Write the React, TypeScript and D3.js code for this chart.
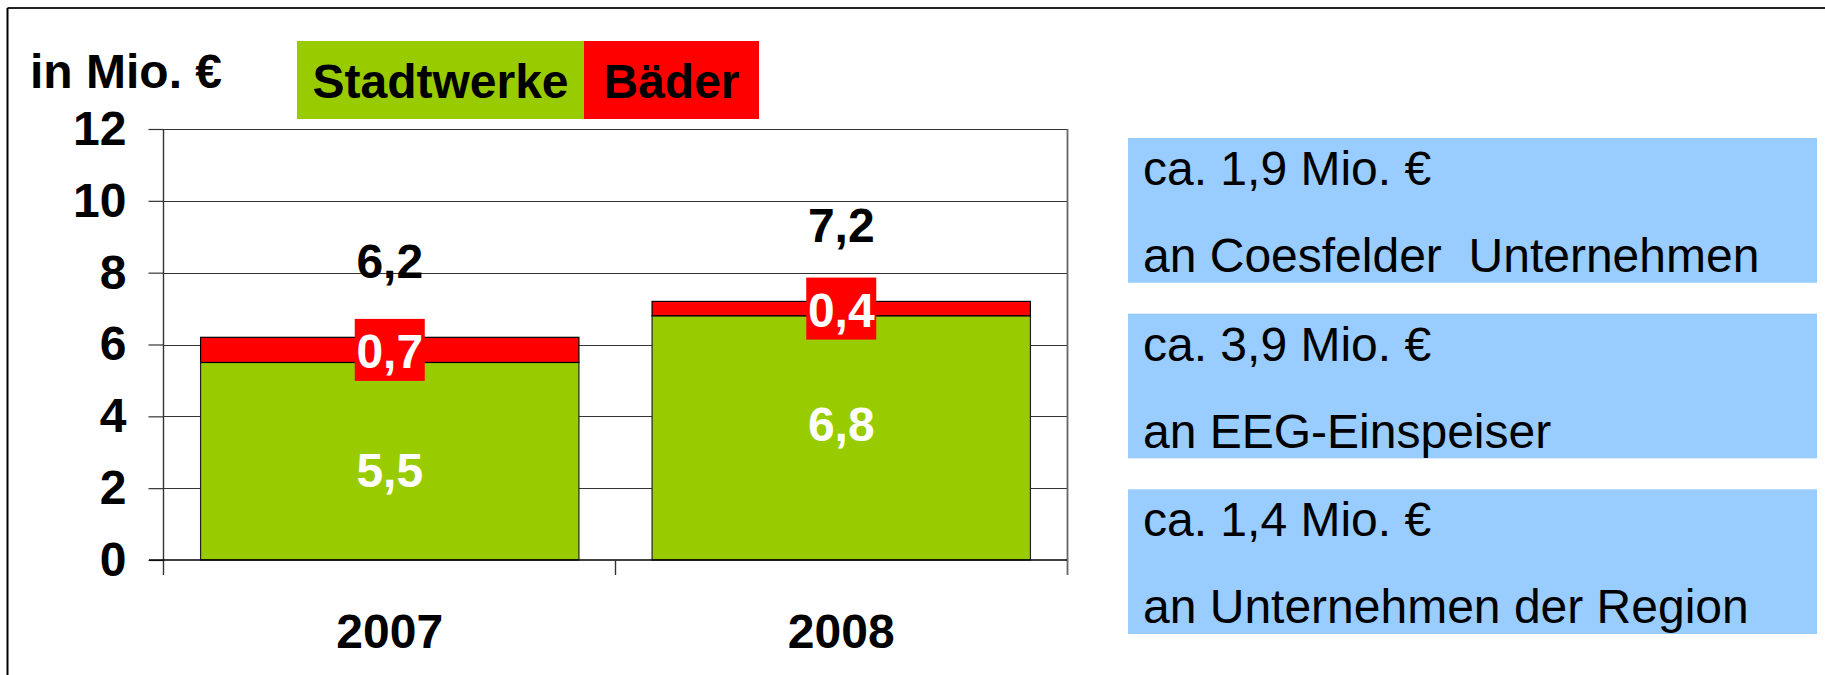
import React, { useRef, useEffect } from 'react';
import * as d3 from 'd3';

const years = ['2007', '2008'];
const stadtwerke = [5.5, 6.8];
const baeder = [0.7, 0.4];
const totals = [6.2, 7.2];
const yTicks = [0, 2, 4, 6, 8, 10, 12];
const legendLabels = ['Stadtwerke', 'Bäder'];
const unitLabel = 'in Mio. €';
const infoAmounts = ['ca. 1,9 Mio. €', 'ca. 3,9 Mio. €', 'ca. 1,4 Mio. €'];
const infoTargets = ['an Coesfelder  Unternehmen', 'an EEG-Einspeiser', 'an Unternehmen der Region'];

const GREEN = '#99CC00';
const RED = '#FF0000';
const BLUE = '#99CCFF';
const FONT = 'Liberation Sans, Arial, sans-serif';
const BOLD_SIZE = 48;
const TEXT_SIZE = 48;

const fmt = (v: number) => v.toFixed(1).replace('.', ',');

export default function App() {
    const svgRef = useRef<SVGSVGElement>(null);
    const width = 1825;
    const height = 675;

    useEffect(() => {
        const svg = d3.select(svgRef.current);
        svg.selectAll('*').remove();

        const plot = { left: 164, right: 1067, top: 129, bottom: 560 };

        const x = d3.scaleBand<string>()
            .domain(years)
            .range([plot.left, plot.right])
            .paddingInner(0.162)
            .paddingOuter(0.081);

        const y = d3.scaleLinear()
            .domain([0, 12])
            .range([plot.bottom, plot.top]);

        // outer frame (top + left visible)
        svg.append('line')
            .attr('x1', 7.5).attr('x2', width).attr('y1', 8).attr('y2', 8)
            .attr('stroke', '#222').attr('stroke-width', 2);
        svg.append('line')
            .attr('x1', 7.5).attr('x2', 7.5).attr('y1', 8).attr('y2', height)
            .attr('stroke', '#000').attr('stroke-width', 2);

        // gridlines
        svg.append('g')
            .selectAll('line')
            .data(yTicks.filter(d => d > 0))
            .join('line')
            .attr('x1', plot.left)
            .attr('x2', plot.right)
            .attr('y1', d => Math.round(y(d)) + 0.5)
            .attr('y2', d => Math.round(y(d)) + 0.5)
            .attr('stroke', '#333')
            .attr('stroke-width', 1.2);

        // right edge of plot area
        svg.append('line')
            .attr('x1', plot.right + 0.5).attr('x2', plot.right + 0.5)
            .attr('y1', plot.top).attr('y2', plot.bottom + 15)
            .attr('stroke', '#666').attr('stroke-width', 1.8);

        // y axis
        svg.append('g')
            .attr('transform', `translate(${plot.left - 0.5},0)`)
            .call(d3.axisLeft(y).tickValues(yTicks).tickSize(15).tickSizeOuter(0).tickFormat(d => String(d)))
            .call(g => g.select('.domain').remove())
            .call(g => g.selectAll('.tick line').attr('stroke', '#333').attr('stroke-width', 1.2))
            .call(g => g.selectAll('.tick text')
                .attr('x', -37)
                .attr('fill', '#000')
                .attr('font-size', BOLD_SIZE)
                .attr('font-weight', 'bold')
                .attr('font-family', FONT));
        svg.append('line')
            .attr('x1', plot.left - 0.5).attr('x2', plot.left - 0.5)
            .attr('y1', plot.top).attr('y2', plot.bottom + 15)
            .attr('stroke', '#333').attr('stroke-width', 1.4);

        // bars
        const stacks = years.map((yr, i) => ({ yr, green: stadtwerke[i], red: baeder[i], total: totals[i] }));
        const bars = svg.append('g');
        bars.selectAll('rect.green')
            .data(stacks)
            .join('rect')
            .attr('class', 'green')
            .attr('x', d => x(d.yr)!)
            .attr('width', x.bandwidth())
            .attr('y', d => y(d.green))
            .attr('height', d => y(0) - y(d.green))
            .attr('fill', GREEN)
            .attr('stroke', '#222')
            .attr('stroke-width', 1.2);
        bars.selectAll('rect.red')
            .data(stacks)
            .join('rect')
            .attr('class', 'red')
            .attr('x', d => x(d.yr)!)
            .attr('width', x.bandwidth())
            .attr('y', d => y(d.green + d.red))
            .attr('height', d => y(d.green) - y(d.green + d.red))
            .attr('fill', RED)
            .attr('stroke', '#000')
            .attr('stroke-width', 1.2);

        // x axis
        svg.append('line')
            .attr('x1', plot.left - 15).attr('x2', plot.right)
            .attr('y1', plot.bottom).attr('y2', plot.bottom)
            .attr('stroke', '#000').attr('stroke-width', 1.6);
        const mid = (x('2007')! + x.bandwidth() + x('2008')!) / 2;
        svg.append('line')
            .attr('x1', mid).attr('x2', mid)
            .attr('y1', plot.bottom).attr('y2', plot.bottom + 15)
            .attr('stroke', '#333').attr('stroke-width', 1.4);

        svg.append('g')
            .selectAll('text')
            .data(years)
            .join('text')
            .attr('x', d => x(d)! + x.bandwidth() / 2)
            .attr('y', 648)
            .attr('text-anchor', 'middle')
            .attr('font-size', BOLD_SIZE)
            .attr('font-weight', 'bold')
            .attr('font-family', FONT)
            .text(d => d);

        const cx = (d: { yr: string }) => x(d.yr)! + x.bandwidth() / 2;

        // green value labels
        svg.append('g')
            .selectAll('text')
            .data(stacks)
            .join('text')
            .attr('x', cx)
            .attr('y', d => y(d.green) + 108)
            .attr('dy', '0.35em')
            .attr('text-anchor', 'middle')
            .attr('fill', '#fff')
            .attr('font-size', BOLD_SIZE)
            .attr('font-weight', 'bold')
            .attr('font-family', FONT)
            .text(d => fmt(d.green));

        // red value labels with red background
        const redLabels = svg.append('g')
            .selectAll('g')
            .data(stacks)
            .join('g')
            .attr('transform', d => `translate(${cx(d)},${y(d.green + d.red / 2)})`);
        redLabels.append('rect')
            .attr('x', -35).attr('y', -31)
            .attr('width', 70).attr('height', 62)
            .attr('fill', RED);
        redLabels.append('text')
            .attr('y', 18)
            .attr('text-anchor', 'middle')
            .attr('fill', '#fff')
            .attr('font-size', BOLD_SIZE)
            .attr('font-weight', 'bold')
            .attr('font-family', FONT)
            .text(d => fmt(d.red));

        // totals
        svg.append('g')
            .selectAll('text')
            .data(stacks)
            .join('text')
            .attr('x', cx)
            .attr('y', d => y(d.total) - 59)
            .attr('text-anchor', 'middle')
            .attr('fill', '#000')
            .attr('font-size', BOLD_SIZE)
            .attr('font-weight', 'bold')
            .attr('font-family', FONT)
            .text(d => fmt(d.total));

        // unit label
        svg.append('text')
            .attr('x', 30)
            .attr('y', 88)
            .attr('font-size', BOLD_SIZE)
            .attr('font-weight', 'bold')
            .attr('font-family', FONT)
            .text(unitLabel);

        // legend
        const legendX = d3.scaleOrdinal<string, number>().domain(legendLabels).range([297, 584]);
        const legendW = [287, 175];
        const legendColors = [GREEN, RED];
        const legend = svg.append('g')
            .selectAll('g')
            .data(legendLabels)
            .join('g')
            .attr('transform', d => `translate(${legendX(d)},41)`);
        legend.append('rect')
            .attr('width', (_, i) => legendW[i])
            .attr('height', 78)
            .attr('fill', (_, i) => legendColors[i]);
        legend.append('text')
            .attr('x', (_, i) => legendW[i] / 2)
            .attr('y', 57)
            .attr('text-anchor', 'middle')
            .attr('font-size', BOLD_SIZE)
            .attr('font-weight', 'bold')
            .attr('font-family', FONT)
            .text(d => d);

        // info boxes
        const boxY = d3.scaleBand<number>()
            .domain(d3.range(infoAmounts.length))
            .range([138, 634])
            .paddingInner(0.176);
        const boxes = svg.append('g')
            .selectAll('g')
            .data(d3.range(infoAmounts.length))
            .join('g')
            .attr('transform', i => `translate(1128,${boxY(i)})`);
        boxes.append('rect')
            .attr('width', 689)
            .attr('height', boxY.bandwidth())
            .attr('fill', BLUE);
        boxes.append('text')
            .attr('x', 15)
            .attr('y', 47)
            .attr('font-size', TEXT_SIZE)
            .attr('font-family', FONT)
            .style('white-space', 'pre')
            .text(i => infoAmounts[i]);
        boxes.append('text')
            .attr('x', 15)
            .attr('y', 134)
            .attr('font-size', TEXT_SIZE)
            .attr('font-family', FONT)
            .style('white-space', 'pre')
            .text(i => infoTargets[i]);
    }, []);

    return (
        <svg
            ref={svgRef}
            width={width}
            height={height}
            style={{ position: 'absolute', left: 0, top: 0, background: '#fff' }}
        />
    );
}
